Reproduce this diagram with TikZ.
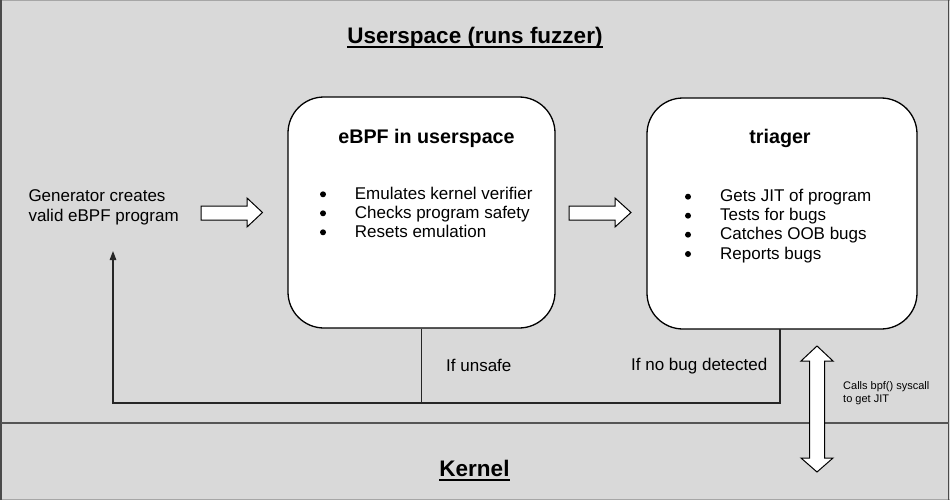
\documentclass[tikz,border=0pt]{standalone}
\usepackage{fontspec}
\setmainfont{Liberation Sans}
\usetikzlibrary{arrows.meta}
\definecolor{bgray}{HTML}{D9D9D9}
\definecolor{lgray}{HTML}{A6A6A6}
\definecolor{dgray}{HTML}{4A4A4A}
\definecolor{divgray}{HTML}{555555}
\tikzset{
  txt/.style={inner sep=0pt, anchor=base west, font=\fontsize{17}{20}\selectfont},
  bul/.style={circle, fill=black, inner sep=0pt, minimum size=6pt},
  ttl/.style={inner sep=0pt, anchor=base, font=\fontsize{22.5}{26}\selectfont\bfseries},
  btitle/.style={inner sep=0pt, anchor=base, font=\fontsize{19.7}{23}\selectfont\bfseries},
  small/.style={inner sep=0pt, anchor=base west, font=\fontsize{11}{13}\selectfont},
  card/.style={draw=black, fill=white, line width=1.3pt, rounded corners=36pt, inner sep=0pt},
  blockarrow/.style={draw=black, fill=white, line width=1pt, line join=miter},
  fb/.style={draw=black!85, line width=1.3pt},
}
\begin{document}
\begin{tikzpicture}[x=1pt, y=-1pt]
\useasboundingbox (0,0) rectangle (950,500);
\fill[bgray] (0,0) rectangle (950,500);
\draw[lgray, line width=1.5pt] (0,0.75) -- (950,0.75);
\draw[lgray, line width=1.5pt] (0,499.25) -- (950,499.25);
\draw[dgray, line width=1.5pt] (1,0) -- (1,500);
\draw[dgray, line width=1.5pt] (948.5,0) -- (948.5,500);
% divider
\draw[divgray, line width=2pt] (1,423) -- (948.5,423);

% titles
\node[ttl] (ut) at (475,44) {Userspace (runs fuzzer)};
\draw[black, line width=2pt] ([yshift=-3.5pt]ut.base west) -- ([yshift=-3.5pt]ut.base east);
\node[ttl] (kt) at (474.5,476) {Kernel};
\draw[black, line width=2pt] ([yshift=-3.5pt]kt.base west) -- ([yshift=-3.5pt]kt.base east);

% cards
\node[card, minimum width=267pt, minimum height=231pt] (ebpf) at (421.5,212.5) {};
\node[card, minimum width=270pt, minimum height=231pt] (tri) at (782,213.5) {};

\node[btitle] (ebpft) at (426.5,143) {eBPF in userspace};
\node[btitle] (trit) at (780,143) {triager};

% ebpf bullets
\node[bul] (eb1) at (323,194.3) {};
\node[txt] (et1) at (354.7,199.3) {Emulates kernel verifier};
\node[bul] (eb2) at (323,213.3) {};
\node[txt] (et2) at (354.7,218.3) {Checks program safety};
\node[bul] (eb3) at (323,232.3) {};
\node[txt] (et3) at (354.7,237.3) {Resets emulation};

% triager bullets
\node[bul] (tb1) at (688,196.7) {};
\node[txt] (tt1) at (720,201.7) {Gets JIT of program};
\node[bul] (tb2) at (688,215.7) {};
\node[txt] (tt2) at (720,220.7) {Tests for bugs};
\node[bul] (tb3) at (688,234.7) {};
\node[txt] (tt3) at (720,239.7) {Catches OOB bugs};
\node[bul] (tb4) at (688,254) {};
\node[txt] (tt4) at (720,259) {Reports bugs};

% generator
\node[txt] (gen1) at (28.3,201.7) {Generator creates};
\node[txt] (gen2) at (28.3,221) {valid eBPF program};

% block arrows
\path[blockarrow] (201,206) -- (247,206) -- (247,198) -- (262.5,212.5) -- (247,227) -- (247,220) -- (201,220) -- cycle;
\path[blockarrow] (569,206) -- (615,206) -- (615,198) -- (631,212.5) -- (615,227) -- (615,220) -- (569,220) -- cycle;

% feedback
\coordinate (fbc) at (113,403);
\coordinate (gtip) at (113,251);
\coordinate (trib) at (780,329);
\draw[fb, -{Triangle[length=9pt,width=6.5pt]}] (trib) |- (fbc) -- (gtip);
\draw[fb] (ebpf.south) -- (ebpf.south |- fbc);

\node[txt] (unsafe) at (446,371) {If unsafe};
\node[txt, anchor=base east] (nobug) at (767.5,370.7) {If no bug detected};

% syscall double arrow
\path[blockarrow] (817,346) -- (833,361) -- (824.5,361) -- (824.5,458) -- (833,458) -- (817,472) -- (801,458) -- (809.5,458) -- (809.5,361) -- (801,361) -- cycle;
\node[small] (sc1) at (843,389.3) {Calls bpf() syscall};
\node[small] (sc2) at (843,402) {to get JIT};
\end{tikzpicture}
\end{document}
